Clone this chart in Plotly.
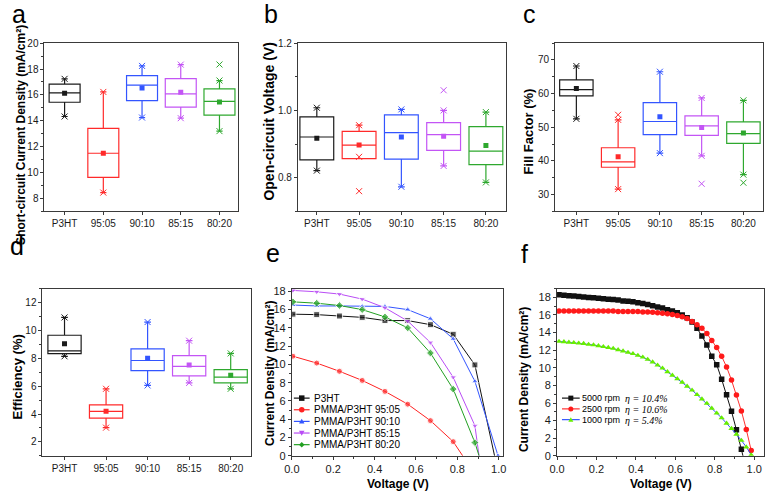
import plotly.graph_objects as go

W, H = 769, 498

# ---------------- data ----------------
groups = ["P3HT", "95:05", "90:10", "85:15", "80:20"]

# (a) short-circuit current density (mA/cm2)
jsc_q1 = [15.43, 9.63, 15.56, 15.05, 14.43]
jsc_median = [16.15, 11.49, 16.76, 16.08, 15.50]
jsc_q3 = [16.84, 13.42, 17.49, 17.26, 16.46]
jsc_low = [14.33, 8.45, 14.25, 14.20, 13.20]
jsc_high = [17.24, 16.23, 18.24, 18.34, 17.11]
jsc_mean = [16.13, 11.49, 16.54, 16.20, 15.46]
jsc_outlier = [None, None, None, None, 18.35]

# (b) open-circuit voltage (V)
voc_q1 = [0.853, 0.857, 0.855, 0.881, 0.839]
voc_median = [0.921, 0.897, 0.934, 0.928, 0.879]
voc_q3 = [0.981, 0.938, 0.987, 0.964, 0.952]
voc_low = [0.821, 0.862, 0.773, 0.835, 0.786]
voc_high = [1.008, 0.956, 1.003, 1.000, 0.995]
voc_mean = [0.917, 0.897, 0.921, 0.923, 0.896]
voc_outlier = [None, 0.760, None, 1.060, None]

# (c) fill factor (%)
ff_q1 = [59.3, 38.1, 47.8, 47.6, 45.2]
ff_median = [61.2, 39.7, 51.7, 50.4, 48.1]
ff_q3 = [64.1, 43.9, 57.3, 53.4, 51.6]
ff_low = [52.5, 31.6, 42.3, 41.5, 35.9]
ff_high = [68.2, 52.2, 66.5, 58.7, 58.0]
ff_mean = [61.5, 41.2, 53.1, 49.9, 48.3]
ff_outlier = [None, 53.7, None, 33.2, 33.5]

# (d) efficiency (%)
pce_q1 = [8.33, 3.70, 7.12, 6.74, 6.23]
pce_median = [8.53, 4.19, 7.84, 7.42, 6.65]
pce_q3 = [9.65, 4.65, 8.67, 8.19, 7.19]
pce_low = [8.14, 3.02, 6.05, 6.23, 5.81]
pce_high = [10.93, 5.81, 10.60, 9.26, 8.35]
pce_mean = [9.05, 4.19, 8.00, 7.51, 6.79]
pce_outlier = [None, None, None, None, None]

# (e) J-V curves of blends
e_voltage = [0.005, 0.12, 0.23, 0.34, 0.45, 0.56, 0.67, 0.78, 0.885]
e_names = ["P3HT", "PMMA/P3HT 95:05", "PMMA/P3HT 90:10", "PMMA/P3HT 85:15", "PMMA/P3HT 80:20"]
e_j_p3ht = [15.50, 15.45, 15.30, 15.15, 14.80, 14.80, 14.35, 13.30, 9.95]
e_j_9505 = [10.90, 10.15, 9.25, 8.25, 7.05, 5.65, 3.85, 1.55]
e_j_9010 = [16.50, 16.40, 16.40, 16.35, 16.35, 16.00, 15.00, 12.80, 8.15]
e_j_8515 = [18.10, 17.95, 17.70, 17.15, 16.20, 14.75, 12.40, 8.60, 3.30]
e_j_8020 = [16.85, 16.70, 16.45, 16.00, 15.20, 14.00, 11.25, 7.30, 1.45]
e_voc = [0.980, 0.826, 0.997, 0.905, 0.905]

# (f) J-V curves at different spin speeds
f_voltage = [0.010, 0.035, 0.060, 0.085, 0.110, 0.135, 0.160, 0.185, 0.210, 0.235,
             0.260, 0.285, 0.310, 0.335, 0.360, 0.385, 0.410, 0.435, 0.460, 0.485,
             0.510, 0.535, 0.560, 0.585, 0.610, 0.635, 0.660, 0.685, 0.710, 0.735,
             0.760, 0.785, 0.810, 0.835, 0.860, 0.885, 0.910, 0.935, 0.960, 0.985]
f_j_5000 = [18.30, 18.25, 18.20, 18.15, 18.10, 18.05, 18.00, 17.95, 17.90, 17.85,
            17.80, 17.75, 17.70, 17.60, 17.55, 17.50, 17.40, 17.30, 17.20, 17.05,
            16.90, 16.80, 16.60, 16.45, 16.25, 16.00, 15.70, 15.20, 14.50, 13.60,
            12.60, 11.30, 10.35, 8.70, 6.95, 5.05, 2.95, 0.75, -1.50]
f_j_2500 = [16.45, 16.45, 16.45, 16.45, 16.45, 16.45, 16.45, 16.45, 16.45, 16.45,
            16.45, 16.45, 16.40, 16.40, 16.40, 16.40, 16.40, 16.35, 16.35, 16.30,
            16.25, 16.20, 16.15, 16.05, 15.95, 15.80, 15.60, 15.25, 14.90, 14.50,
            13.90, 13.10, 12.30, 11.30, 10.10, 8.60, 6.90, 5.10, 3.00, 0.60]
f_j_1000 = [13.00, 12.95, 12.90, 12.85, 12.80, 12.75, 12.65, 12.60, 12.50, 12.40,
            12.30, 12.20, 12.05, 11.90, 11.75, 11.60, 11.40, 11.20, 10.95, 10.65,
            10.30, 9.95, 9.55, 9.15, 8.75, 8.35, 7.90, 7.45, 6.95, 6.45,
            5.95, 5.40, 4.85, 4.30, 3.70, 3.10, 2.45, 1.75, 1.00, 0.10]
f_speeds = ["5000 rpm", "2500 rpm", "1000 rpm"]
f_eta = ["10.4%", "10.6%", "5.4%"]

# ---------------- styling ----------------
box_colors = ["#1a1a1a", "#ff2a2a", "#3355ff", "#c355f5", "#2ea82e"]
e_colors = ["#111111", "#ff2222", "#3355ff", "#b94cf5", "#22a022"]
e_symbols = ["square", "circle", "triangle-up", "triangle-down", "diamond"]
SANS = "Liberation Sans, Arial, sans-serif"
SERIF = "Liberation Serif, Times New Roman, serif"
AX = "#3a3a3a"


def px(x):
    return x / W


def py(y):
    return 1 - y / H


def ax_id(k):
    return ("x" if k == 1 else f"x{k}"), ("y" if k == 1 else f"y{k}")


fig = go.Figure()


def add_box_panel(k, q1, med, q3, lo, hi, mean, outl):
    xa, ya = ax_id(k)
    for i, g in enumerate(groups):
        fig.add_trace(go.Box(
            x=[g], q1=[q1[i]], median=[med[i]], q3=[q3[i]],
            lowerfence=[lo[i]], upperfence=[hi[i]],
            width=0.8, whiskerwidth=0.2, boxpoints=False,
            line=dict(color=box_colors[i], width=1.2),
            fillcolor="rgba(0,0,0,0)", xaxis=xa, yaxis=ya,
            showlegend=False, hoverinfo="skip"))
    fig.add_trace(go.Scatter(
        x=groups, y=mean, mode="markers", xaxis=xa, yaxis=ya, showlegend=False,
        marker=dict(symbol="square", size=5, color=box_colors)))
    fig.add_trace(go.Scatter(
        x=groups + groups, y=lo + hi, mode="markers", xaxis=xa, yaxis=ya,
        showlegend=False,
        marker=dict(symbol="x-thin", size=6, color=box_colors + box_colors,
                    line=dict(width=1, color=box_colors + box_colors))))
    ox = [g for g, v in zip(groups, outl) if v is not None]
    oy = [v for v in outl if v is not None]
    oc = [c for c, v in zip(box_colors, outl) if v is not None]
    if ox:
        fig.add_trace(go.Scatter(
            x=ox, y=oy, mode="markers", xaxis=xa, yaxis=ya, showlegend=False,
            marker=dict(symbol="x-thin", size=6, color=oc,
                        line=dict(width=1, color=oc))))


add_box_panel(1, jsc_q1, jsc_median, jsc_q3, jsc_low, jsc_high, jsc_mean, jsc_outlier)
add_box_panel(2, voc_q1, voc_median, voc_q3, voc_low, voc_high, voc_mean, voc_outlier)
add_box_panel(3, ff_q1, ff_median, ff_q3, ff_low, ff_high, ff_mean, ff_outlier)
add_box_panel(4, pce_q1, pce_median, pce_q3, pce_low, pce_high, pce_mean, pce_outlier)

# (e)
e_series = [e_j_p3ht, e_j_9505, e_j_9010, e_j_8515, e_j_8020]
for i, js in enumerate(e_series):
    xs = e_voltage[:len(js)] + [e_voc[i]]
    ys = js + [0]
    sizes = [6] * len(js) + ([6] if i == 2 else [0])
    fig.add_trace(go.Scatter(
        x=xs, y=ys, mode="lines+markers", xaxis="x5", yaxis="y5", showlegend=False,
        line=dict(color=e_colors[i], width=1),
        marker=dict(symbol=e_symbols[i], size=sizes, color=e_colors[i])))

# (f)
f_line_colors = ["#111111", "#ff3030", "#3355ff"]
f_marker_colors = ["#111111", "#ff1a1a", "#66ee00"]
f_symbols = ["square", "circle", "triangle-up"]
for i, js in enumerate([f_j_5000, f_j_2500, f_j_1000]):
    fig.add_trace(go.Scatter(
        x=f_voltage[:len(js)], y=js, mode="lines+markers", xaxis="x6", yaxis="y6",
        showlegend=False, line=dict(color=f_line_colors[i], width=1),
        marker=dict(symbol=f_symbols[i], size=5.5, color=f_marker_colors[i])))

# ---------------- axes ----------------
dom = {
    1: ((37, 233), (39, 211)),
    2: ((294, 505), (39, 211)),
    3: ((555, 766), (39, 211)),
    4: ((35, 247), (290, 461)),
    5: ((288, 502), (290, 461)),
    6: ((557, 767), (290, 461)),
}
cat_ranges = {1: [-0.52, 4.47], 2: [-0.45, 4.47], 3: [-0.51, 4.47], 4: [-0.53, 4.5]}
y_specs = {
    1: dict(range=[7, 20], dtick=2, minor=1, fmt=""),
    2: dict(range=[0.7, 1.2], dtick=0.2, minor=0.1, fmt=".1f"),
    3: dict(range=[25, 75], dtick=10, minor=5, fmt=""),
    4: dict(range=[1, 13], dtick=2, minor=1, fmt=""),
    5: dict(range=[0, 18.3], dtick=2, minor=1, fmt=""),
    6: dict(range=[0, 19], dtick=2, minor=1, fmt=""),
}
layout = {}
for k in range(1, 7):
    (x0, x1), (y0, y1) = dom[k]
    xa, ya = ax_id(k)
    xkey = "xaxis" if k == 1 else f"xaxis{k}"
    ykey = "yaxis" if k == 1 else f"yaxis{k}"
    tf = dict(family=SANS, size=10 if k <= 4 else 11, color="#1a1a1a")
    common = dict(showline=True, linecolor=AX, linewidth=1, mirror=True,
                  ticks="outside", ticklen=3, tickcolor=AX, tickwidth=1,
                  showgrid=False, zeroline=False, tickfont=tf)
    if k <= 4:
        layout[xkey] = dict(common, domain=[px(x0), px(x1)], anchor=ya, type="category",
                            categoryorder="array", categoryarray=groups,
                            range=cat_ranges[k])
    else:
        xr = [0, 1.02] if k == 5 else [0, 1.05]
        layout[xkey] = dict(common, domain=[px(x0), px(x1)], anchor=ya, range=xr,
                            tick0=0, dtick=0.2, tickformat=".1f",
                            minor=dict(dtick=0.1, ticks="outside", ticklen=2, tickcolor=AX))
    s = y_specs[k]
    layout[ykey] = dict(common, domain=[py(y1), py(y0)], anchor=xa, range=s["range"],
                        tick0=0, dtick=s["dtick"], tickformat=s["fmt"],
                        minor=dict(dtick=s["minor"], ticks="outside", ticklen=2, tickcolor=AX))

annotations = []
# panel letters
letters = [("a", 2, 20), ("b", 258, 20), ("c", 520, 20), ("d", 0, 257), ("e", 260, 265), ("f", 518, 266)]
for t, lx, base in letters:
    annotations.append(dict(text=t, x=px(lx), y=py(base - 11), xref="paper", yref="paper",
                            xanchor="left", yanchor="middle", showarrow=False,
                            font=dict(family=SANS, size=25, color="#000")))
# y titles
ytitles = [
    ("Short-circuit Current Density (mA/cm²)", 13, 133, 12),
    ("Open-circuit Voltage (V)", 265, 119, 14),
    ("Fill Factor (%)", 528, 129, 13),
    ("Efficiency (%)", 10, 380, 13),
    ("Current Density (mA/cm²)", 265, 377, 12),
    ("Current Density (mA/cm²)", 523, 383, 12),
]
for t, tx, ty, fs in ytitles:
    annotations.append(dict(text=t, x=px(tx), y=py(ty), xref="paper", yref="paper",
                            xanchor="center", yanchor="middle", textangle=-90, showarrow=False,
                            font=dict(family=SANS, size=fs, color="#000", weight="bold")))
for tx in (396, 662):
    annotations.append(dict(text="Voltage (V)", x=px(tx), y=py(490), xref="paper", yref="paper",
                            xanchor="center", yanchor="middle", showarrow=False,
                            font=dict(family=SANS, size=12, color="#000", weight="bold")))

shapes = []


def marker_shape(cx, cy, symbol, color, s):
    h = s / 2
    base = dict(xref="paper", yref="paper", xsizemode="pixel", ysizemode="pixel",
                xanchor=px(cx), yanchor=py(cy), fillcolor=color, line=dict(width=0))
    if symbol == "circle":
        return dict(base, type="circle", x0=-h, x1=h, y0=-h, y1=h)
    paths = {
        "square": f"M{-h},{-h}L{h},{-h}L{h},{h}L{-h},{h}Z",
        "triangle-up": f"M{-h},{-h * 0.8}L{h},{-h * 0.8}L0,{h}Z",
        "triangle-down": f"M{-h},{h * 0.8}L{h},{h * 0.8}L0,{-h}Z",
        "diamond": f"M0,{h}L{h},0L0,{-h}L{-h},0Z",
    }
    return dict(base, type="path", path=paths[symbol])


def legend_key(lx0, lx1, ly, lcolor, symbol, mcolor, msize):
    shapes.append(dict(type="line", xref="paper", yref="paper", x0=px(lx0), x1=px(lx1),
                       y0=py(ly), y1=py(ly), line=dict(color=lcolor, width=1.2)))
    shapes.append(marker_shape((lx0 + lx1) / 2, ly, symbol, mcolor, msize))


def label(text, tx, ty, fs, family=SANS, style="normal"):
    annotations.append(dict(text=text, x=px(tx), y=py(ty), xref="paper", yref="paper",
                            xanchor="left", yanchor="middle", showarrow=False,
                            font=dict(family=family, size=fs, color="#000", style=style)))


for i, nm in enumerate(e_names):
    ly = 402 + 11.9 * i
    legend_key(290, 306, ly, e_colors[i], e_symbols[i], e_colors[i], 5.5)
    label(nm, 308, ly, 10)

for i, sp in enumerate(f_speeds):
    ly = 402 + 11 * i
    legend_key(562, 580, ly, f_line_colors[i], f_symbols[i], f_marker_colors[i], 5)
    label(sp, 580, ly, 9)
    label("η = " + f_eta[i], 624, ly + 0.5, 10, SERIF, "italic")

fig.update_layout(
    width=W, height=H, margin=dict(l=0, r=0, t=0, b=0),
    paper_bgcolor="white", plot_bgcolor="white", showlegend=False,
    boxmode="overlay", annotations=annotations, shapes=shapes,
    font=dict(family=SANS), hovermode=False)

fig.update_layout(**layout)

fig.write_html("out.html", config={"displayModeBar": False, "staticPlot": True},
               post_script="document.body.style.margin='0px';document.body.style.padding='0px';")
